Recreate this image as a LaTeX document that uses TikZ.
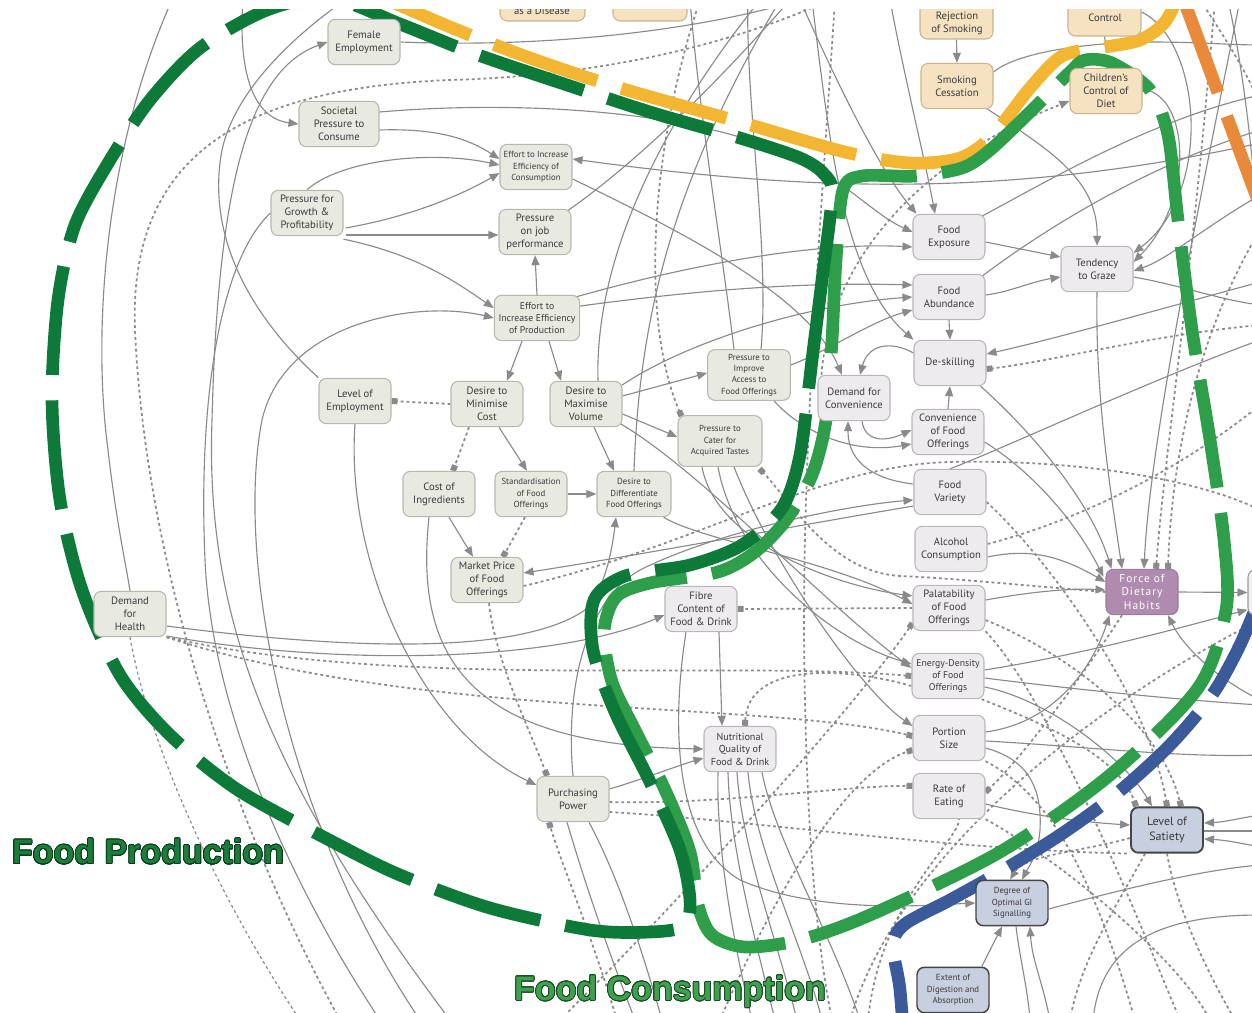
\documentclass[tikz,border=0pt]{standalone}
\usepackage{fontspec}
\setmainfont{PT Sans}
\newfontfamily\titlefont{Liberation Sans}
\newfontfamily\forcefont{PT Sans}[LetterSpace=9]
\usepackage[copies]{contour}
\contourlength{0.6pt}
\contournumber{24}
\usetikzlibrary{arrows.meta,calc,fit}
\pgfdeclarelayer{edges}
\pgfdeclarelayer{bands}
\pgfsetlayers{edges,bands,main}
\definecolor{pfill}{HTML}{E8EAE2}
\definecolor{pdraw}{HTML}{B5B8AE}
\definecolor{cfill}{HTML}{EEEBEF}
\definecolor{cdraw}{HTML}{B9B5BB}
\definecolor{tfill}{HTML}{F5E2C0}
\definecolor{tdraw}{HTML}{C9B48E}
\definecolor{bfill}{HTML}{C8CFDE}
\definecolor{bdraw}{HTML}{454545}
\definecolor{ffill}{HTML}{B08BB0}
\definecolor{fdraw}{HTML}{9E7A9E}
\definecolor{lc}{HTML}{8A8A8A}
\definecolor{txtc}{HTML}{3A3A3A}
\definecolor{dgreen}{HTML}{0E7A3A}
\definecolor{lgreen}{HTML}{2F9E4A}
\definecolor{yel}{HTML}{F2B632}
\definecolor{org}{HTML}{E98A3B}
\definecolor{blu}{HTML}{3A5A9A}
\definecolor{fpfill}{HTML}{1B7D3A}
\definecolor{fpline}{HTML}{0A3A1A}
\definecolor{fcfill}{HTML}{3FA04F}
\definecolor{fcline}{HTML}{1A4A25}
\tikzset{
 nbox/.style={rounded corners=5.5pt, align=center, inner sep=1pt, minimum width=54pt, minimum height=34pt, line width=0.8pt, font=\fontsize{8}{9.6}\selectfont, text=txtc},
 pn/.style={nbox, fill=pfill, draw=pdraw},
 cn/.style={nbox, fill=cfill, draw=cdraw},
 tn/.style={nbox, fill=tfill, draw=tdraw},
 bn/.style={nbox, fill=bfill, draw=bdraw, line width=1.1pt},
 fn/.style={nbox, fill=ffill, draw=fdraw, text=white, font=\forcefont\fontsize{8.5}{10.2}\selectfont},
 sm/.style={font=\fontsize{6.6}{8.5}\selectfont},
 ntxt/.style={align=center, inner sep=0pt, font=\fontsize{8}{9.6}\selectfont, text=txtc},
 ln/.style={draw=lc, line width=0.85pt},
 dt/.style={draw=lc, line width=1.3pt, dash pattern=on 2.2pt off 2.2pt},
 ar/.style={-{Triangle[length=7.5pt,width=6pt]}},
 sq/.style={-{Square[length=4.5pt,width=4.5pt]}},
 band/.style={line width=9.5pt, line cap=butt, dash pattern=on 82pt off 19pt},
}
\begin{document}
\begin{tikzpicture}[x=0.75pt,y=-0.75pt]
\useasboundingbox (0,0) rectangle (1252,1013);
\begin{scope}
\clip (0,10) rectangle (1252,1013);
% production nodes
\node[pn] (fe) at (364,42) {Female\\Employment};
\node[pn, minimum width=60pt] (spc) at (339,124) {Societal\\Pressure to\\Consume};
\node[pn, sm] (eic) at (536,167) {Effort to Increase\\Efficiency of\\Consumption};
\node[pn] (pgp) at (307,213) {Pressure for\\Growth \&\\Profitability};
\node[pn] (pjp) at (535,232) {Pressure\\on job\\performance};
\node[pn, minimum width=64pt, font=\fontsize{7.3}{9}\selectfont] (eip) at (537,318) {Effort to\\Increase Efficiency\\of Production};
\node[pn] (le) at (355,401) {Level of\\Employment};
\node[pn] (dmc) at (487,404) {Desire to\\Minimise\\Cost};
\node[pn] (dmv) at (586,404) {Desire to\\Maximise\\Volume};
\node[pn, sm, minimum width=62pt, minimum height=38pt] (pia) at (749,375) {Pressure to\\Improve\\Access to\\Food Offerings};
\node[pn, sm, minimum width=63pt, minimum height=38pt] (pca) at (720,441) {Pressure to\\Cater for\\Acquired Tastes};
\node[pn] (ci) at (439,494) {Cost of\\Ingredients};
\node[pn, sm] (sfo) at (531,494) {Standardisation\\of Food\\Offerings};
\node[pn, sm, minimum width=55.5pt] (ddf) at (634,494) {Desire to\\Differentiate\\Food Offerings};
\node[pn] (mp) at (487,580) {Market Price\\of Food\\Offerings};
\node[pn] (dh) at (130,614) {Demand\\for\\Health};
\node[pn] (pp) at (573,799) {Purchasing\\Power};
% consumption nodes
\node[cn] (dc) at (854,398) {Demand for\\Convenience};
\node[cn] (ds) at (950,363) {De-skilling};
\node[cn] (cfo) at (948,432) {Convenience\\of Food\\Offerings};
\node[cn] (fv) at (950,492) {Food\\Variety};
\node[cn] (ac) at (951,549) {Alcohol\\Consumption};
\node[cn] (pal) at (949,608) {Palatability\\of Food\\Offerings};
\node[fn] (fdh) at (1142,592) {Force of\\Dietary\\Habits};
\node[cn] (fib) at (701,609) {Fibre\\Content of\\Food \& Drink};
\node[cn] (fex) at (949,237) {Food\\Exposure};
\node[cn] (fab) at (949,297) {Food\\Abundance};
\node[cn] (tg) at (1097,269) {Tendency\\to Graze};
\node[cn, font=\fontsize{7.3}{9}\selectfont] (ed) at (948,676) {Energy-Density\\of Food\\Offerings};
\node[cn] (ps) at (949,738) {Portion\\Size};
\node[cn] (re) at (949,796) {Rate of\\Eating};
\node[bn, line width=1.4pt, font=\fontsize{9}{11}\selectfont] (ls) at (1167,830) {Level of\\Satiety};
\node[bn, sm] (dgi) at (1012,903) {Degree of\\Optimal GI\\Signalling};
\node[bn, sm] (eda) at (953,990) {Extent of\\Digestion and\\Absorption};
\node[cn, font=\fontsize{7.6}{9.4}\selectfont] (nq) at (740,749) {Nutritional\\Quality of\\Food \& Drink};
% tan nodes
\node[tn] (sc) at (957,86) {Smoking\\Cessation};
\node[tn] (cc) at (1106,91) {Children’s\\Control of\\Diet};
\node[tn, fit={(920,-12) (993,39)}, inner sep=0pt] (rsbox) {};
\node[ntxt] (rstxt) at (957,23) {Rejection\\of Smoking};
\node[tn, fit={(1068,-12) (1141,36)}, inner sep=0pt] (ctlbox) {};
\node[ntxt] (ctltxt) at (1105,18) {Control};
\node[tn, fit={(500,-30) (585,21)}, inner sep=0pt] (disbox) {};
\node[ntxt] (distxt) at (542,11) {as a Disease};
\node[tn, fit={(613,-30) (687,21)}, inner sep=0pt] (tbox2) {};
\node[nbox, fill=white!95!black, draw=black!40, fit={(1248,570) (1320,615)}, inner sep=0pt] (rbox) {};
% titles
\node[font=\titlefont\bfseries\fontsize{25.5}{28}\selectfont, inner sep=0pt] (tprod) at (148,852) {\color{fpfill}\contour{fpline}{Food Production}};
\node[font=\titlefont\bfseries\fontsize{25.5}{28}\selectfont, inner sep=0pt] (tcons) at (670,992) {\color{fcfill}\contour{fcline}{Food Consumption}};
\end{scope}
% free ends
\coordinate (k1) at (172,0); \coordinate (k2) at (243,0); \coordinate (k3) at (450,1020);
\coordinate (k4) at (345,0); \coordinate (k5) at (380,1020); \coordinate (k6) at (420,1020);
\coordinate (k7) at (340,1020); \coordinate (k8) at (830,0); \coordinate (k9) at (790,0);
\coordinate (k10) at (1260,143); \coordinate (k11) at (780,0); \coordinate (k12) at (300,1020);
\coordinate (k13) at (1260,510); \coordinate (k14) at (635,1020); \coordinate (k15) at (662,1020);
\coordinate (k16) at (617,1020); \coordinate (k17) at (752,1020); \coordinate (k18) at (775,1020);
\coordinate (k19) at (797,1020); \coordinate (k20) at (822,1020); \coordinate (k21) at (860,1020);
\coordinate (k22) at (690,0); \coordinate (k23) at (748,0); \coordinate (k24) at (700,0);
\coordinate (k25) at (1260,45); \coordinate (ctlj) at (1106,45); \coordinate (k26) at (1260,195);
\coordinate (k27) at (1260,305); \coordinate (k28) at (890,0); \coordinate (k29) at (800,0);
\coordinate (k30) at (812,0); \coordinate (k31) at (1260,95); \coordinate (k32) at (1260,130);
\coordinate (k33) at (1260,340); \coordinate (k34) at (1260,282); \coordinate (k35) at (1260,325);
\coordinate (k36) at (1260,705); \coordinate (k37) at (1260,755); \coordinate (k38) at (1030,1020);
\coordinate (k39) at (1050,1020); \coordinate (k40) at (1260,865); \coordinate (k41) at (1260,815);
\coordinate (k42) at (1260,847); \coordinate (k43) at (1260,831); \coordinate (k44) at (1260,700);
\coordinate (k45) at (1093,1020); \coordinate (k46) at (1260,915); \coordinate (k47) at (1240,0);
\coordinate (k48) at (1215,0); \coordinate (k49) at (1260,230); \coordinate (k50) at (835,0);
\coordinate (k51) at (832,1020); \coordinate (k52) at (1228,0); \coordinate (k53) at (1262,260);
\coordinate (k54) at (1200,0); \coordinate (k55) at (1262,110); \coordinate (k56) at (800,0);
\coordinate (k57) at (760,0); \coordinate (k58) at (560,1020); \coordinate (k59) at (720,1020);
\coordinate (k60) at (1260,405); \coordinate (k61) at (1135,1020); \coordinate (k62) at (868,1020);
\coordinate (k63) at (1180,1020); \coordinate (k64) at (850,1020); \coordinate (k65) at (1260,620);
\coordinate (k66) at (1210,1020); \coordinate (k67) at (1235,1020); \coordinate (k68) at (1070,1020);
\begin{pgfonlayer}{edges}
\begin{scope}
\clip (0,10) rectangle (1252,1013);
\draw[ln] (k1) .. controls (105,150) and (92,330) .. (108,450) .. controls (116,520) and (126,565) .. (dh.north);
\draw[ln,ar] (k2) .. controls (238,70) and (252,118) .. (spc.west);
\draw[ln,ar] (k3) .. controls (270,780) and (205,620) .. (212,420) .. controls (218,180) and (250,70) .. (fe.west);
\draw[ln] (le.north west) .. controls (255,320) and (205,240) .. (222,150) .. controls (235,90) and (295,35) .. (k4);
\draw[ln] (pgp.west) .. controls (220,260) and (198,400) .. (205,560) .. controls (212,720) and (300,900) .. (k5);
\draw[ln,ar] (k6) .. controls (285,820) and (235,560) .. (262,420) .. controls (285,320) and (420,300) .. (eip.west);
\draw[dt] (k7) .. controls (230,820) and (145,560) .. (135,330) .. controls (128,150) and (250,88) .. (450,80) .. controls (600,76) and (730,45) .. (k8);
\draw[ln,ar] ($(spc.east)+(0,6)$) .. controls (440,128) and (470,140) .. ($(eic.west)+(0,-8)$);
\draw[ln,ar] ($(spc.east)+(0,-12)$) .. controls (520,100) and (700,110) .. (800,160) .. controls (850,185) and (875,215) .. ($(fex.west)+(0,-5)$);
\draw[ln,ar] (pgp.north) .. controls (340,160) and (430,150) .. ($(eic.west)+(0,-2)$);
\draw[ln,ar] ($(pgp.east)+(2,15)$) .. controls (420,215) and (470,190) .. ($(eic.west)+(0,6)$);
\draw[ln,ar] ($(pgp.east)+(2,22)$) -- ($(pjp.west)+(0,3)$);
\draw[ln,ar] ($(pgp.south east)+(0,3)$) .. controls (420,255) and (460,285) .. ($(eip.west)+(0,-10)$);
\draw[ln,ar] (eip.north) -- (pjp.south);
\draw[ln,ar] ($(eip.south)+(-15,0)$) -- ($(dmc.north)+(20,0)$);
\draw[ln,ar] ($(eip.south)+(12,0)$) -- ($(dmv.north)+(-25,0)$);
\draw[ln,ar] ($(eip.east)+(0,-12)$) .. controls (700,290) and (800,282) .. ($(fab.west)+(0,-12)$);
\draw[ln,ar] ($(eip.north east)+(-4,2)$) .. controls (700,262) and (820,242) .. ($(fex.west)+(0,10)$);
\draw[ln] ($(pjp.north east)+(-4,2)$) .. controls (640,160) and (720,80) .. (k9);
\draw[ln,ar] (k10) .. controls (1000,200) and (800,190) .. ($(eic.east)+(0,-8)$);
\draw[ln,ar] ($(eic.east)+(0,12)$) .. controls (700,240) and (810,300) .. ($(dc.north)+(-12,0)$);
\draw[dt,sq] (dmc.west) -- (le.east);
\draw[dt,sq] ($(dmc.south)+(-18,0)$) -- ($(ci.north)+(14,0)$);
\draw[ln,ar] ($(dmc.south)+(12,0)$) -- ($(sfo.north)+(-4,0)$);
\draw[ln,ar] ($(dmv.south)+(8,0)$) -- ($(ddf.north)+(-20,0)$);
\draw[ln,ar] (sfo.east) -- (ddf.west);
\draw[dt,sq] ($(sfo.south)+(-6,0)$) -- ($(mp.north)+(16,0)$);
\draw[ln,ar] ($(ci.south)+(10,0)$) -- ($(mp.north)+(-14,0)$);
\draw[ln,ar] ($(dmv.east)+(0,-8)$) -- ($(pia.west)+(0,-2)$);
\draw[ln,ar] ($(dmv.east)+(0,10)$) -- ($(pca.west)+(0,-4)$);
\draw[ln,ar] ($(dmv.north east)+(-3,6)$) .. controls (680,345) and (800,305) .. (fab.west);
\draw[ln,ar] ($(dmv.south east)+(-3,-4)$) .. controls (700,470) and (820,600) .. ($(ed.west)+(0,-8)$);
\draw[ln] ($(dmv.north)+(12,0)$) .. controls (595,280) and (640,150) .. (k57);
\draw[ln] (ddf.north) .. controls (640,300) and (680,170) .. (k11);
\draw[ln,ar] ($(ddf.south east)+(-8,0)$) .. controls (700,540) and (830,560) .. ($(pal.west)+(0,-4)$);
\draw[ln,ar] (pp.north) .. controls (565,690) and (585,600) .. (640,570) .. controls (720,530) and (850,505) .. ($(fv.west)+(0,8)$);
\draw[ln,ar] ($(dh.east)+(0,12)$) .. controls (350,650) and (520,655) .. (585,610) .. controls (605,590) and (612,550) .. ($(ddf.south)+(-18,0)$);
\draw[ln,ar] ($(dh.east)+(0,22)$) .. controls (350,668) and (560,660) .. ($(fib.west)+(0,6)$);
\draw[dt,sq] (dh.south east) .. controls (400,690) and (720,660) .. (ed.west);
\draw[dt,sq] (dh.south east) .. controls (420,720) and (760,700) .. ($(ps.west)+(0,-2)$);
\draw[dt, line width=0.9pt] (dh.south) .. controls (150,750) and (220,900) .. (k12);
\draw[ln,ar] (le.south) .. controls (345,560) and (420,730) .. ($(pp.west)+(0,-14)$);
\draw[ln,ar] ($(ci.south)+(-10,0)$) .. controls (415,650) and (460,745) .. (nq.west);
\draw[dt,sq] ($(mp.south)+(2,0)$) .. controls (495,660) and (530,730) .. ($(pp.north)+(-26,0)$);
\draw[ln,ar] ($(fv.west)+(0,14)$) .. controls (800,525) and (640,555) .. ($(mp.east)+(0,-7)$);
\draw[dt] ($(mp.east)+(0,6)$) .. controls (700,545) and (820,465) .. (950,462) .. controls (1080,459) and (1200,480) .. (k13);
\draw[ln,ar] ($(pp.east)+(0,-10)$) .. controls (640,780) and (680,765) .. ($(nq.west)+(0,9)$);
\draw[dt,sq] ($(pp.east)+(0,3)$) .. controls (720,805) and (850,785) .. ($(re.west)+(0,-10)$);
\draw[dt] ($(pp.east)+(0,13)$) .. controls (750,820) and (950,850) .. (ls.south west);
\draw[ln] ($(pp.south)+(-6,0)$) .. controls (590,900) and (612,960) .. (k14);
\draw[ln] ($(pp.south)+(16,0)$) .. controls (620,880) and (645,960) .. (k15);
\draw[dt,sq] (k16) .. controls (590,930) and (560,860) .. ($(pp.south)+(-24,0)$);
\draw[ln,ar] ($(fib.south)+(18,0)$) -- ($(nq.north)+(-18,0)$);
\draw[ln,ar] ($(fib.south)+(-15,0)$) .. controls (672,720) and (672,840) .. (740,880) .. controls (820,915) and (930,905) .. (dgi.west);
\draw[dt,sq] (pal.west) -- (fib.east);
\draw[ln] ($(nq.south)+(-22,0)$) .. controls (716,850) and (735,950) .. (k17);
\draw[ln] ($(nq.south)+(-12,0)$) .. controls (730,850) and (758,950) .. (k18);
\draw[ln] ($(nq.south)+(-3,0)$) .. controls (742,850) and (780,950) .. (k19);
\draw[ln] ($(nq.south)+(8,0)$) .. controls (755,850) and (805,950) .. (k20);
\draw[ln] ($(nq.south)+(22,0)$) .. controls (775,840) and (830,930) .. (k21);
\draw[dt,sq] ($(ed.west)+(0,10)$) .. controls (850,668) and (748,660) .. ($(nq.north)+(5,0)$);
\draw[ln,ar] ($(pia.south)+(25,0)$) .. controls (800,430) and (850,455) .. ($(cfo.west)+(0,12)$);
\draw[ln,ar] ($(pia.east)+(0,-10)$) .. controls (830,350) and (870,322) .. ($(fab.west)+(0,13)$);
\draw[ln] ($(pia.north)+(-15,0)$) .. controls (722,250) and (700,120) .. (k22);
\draw[ln] ($(pia.north)+(12,0)$) .. controls (770,250) and (745,100) .. (k23);
\draw[dt,sq] (k24) .. controls (650,150) and (640,320) .. ($(pca.north west)+(4,1)$);
\draw[ln,ar] ($(pca.south)+(-18,0)$) .. controls (715,540) and (830,585) .. ($(pal.west)+(0,-12)$);
\draw[ln,ar] ($(pca.south)+(-2,0)$) .. controls (735,560) and (830,640) .. ($(ed.west)+(0,-12)$);
\draw[ln,ar] ($(pca.south)+(14,0)$) .. controls (770,560) and (860,690) .. ($(ps.west)+(0,-12)$);
\draw[dt,sq] (fdh.west) .. controls (1020,585) and (950,578) .. (900,576) .. controls (830,572) and (790,500) .. ($(pca.south east)+(-3,2)$);
\draw[ln,ar] ($(dc.south)+(8,0)$) .. controls (865,442) and (885,442) .. ($(cfo.west)+(0,-2)$);
\draw[ln,ar] ($(fv.west)+(0,-8)$) .. controls (878,480) and (848,465) .. ($(dc.south)+(-6,0)$);
\draw[ln,ar] ($(ds.west)+(0,-10)$) .. controls (890,340) and (868,345) .. ($(dc.north)+(6,0)$);
\draw[ln,ar] (cfo.north) -- (ds.south);
\draw[ln,ar] (fab.south) -- (ds.north);
\draw[ln,ar] ($(fex.east)+(0,5)$) -- ($(tg.west)+(0,-12)$);
\draw[ln,ar] ($(fab.east)+(0,-2)$) .. controls (1010,292) and (1030,282) .. ($(tg.west)+(0,8)$);
\draw[ln,ar] (rsbox.south) -- (sc.north);
\draw[ln,ar] ($(sc.south east)+(-6,0)$) .. controls (1050,150) and (1098,180) .. (tg.north);
\draw[ln] ($(sc.east)+(0,-14)$) .. controls (1020,50) and (1100,42) .. (1150,42) .. controls (1200,42) and (1230,45) .. (k25);
\draw[ln] (ctlbox.south) -- (ctlj);
\draw[ln,ar] (ctlbox.east) .. controls (1200,40) and (1215,190) .. ($(tg.east)+(0,-16)$);
\draw[ln,ar] ($(cc.east)+(0,-2)$) .. controls (1190,95) and (1195,200) .. ($(tg.east)+(0,-7)$);
\draw[ln,ar] (k26) .. controls (1200,230) and (1170,258) .. ($(tg.east)+(0,2)$);
\draw[ln] ($(tg.east)+(0,8)$) .. controls (1180,285) and (1220,300) .. (k27);
\draw[ln,ar] (tg.south) .. controls (1095,400) and (1112,500) .. ($(fdh.north)+(-20,0)$);
\draw[dt,ar] ($(dc.north west)+(4,0)$) .. controls (830,260) and (920,160) .. ($(cc.west)+(0,10)$);
\draw[ln,ar] (k28) .. controls (905,80) and (925,160) .. ($(fex.north)+(-14,0)$);
\draw[ln,ar] (k29) .. controls (840,90) and (880,170) .. ($(fex.north west)+(4,0)$);
\draw[ln,ar] (k30) .. controls (830,150) and (845,280) .. (ds.north west);
\draw[ln] ($(fex.north east)+(-3,2)$) .. controls (1050,180) and (1150,120) .. (k31);
\draw[ln] ($(fab.north east)+(-3,2)$) .. controls (1050,225) and (1150,165) .. (k32);
\draw[ln,ar] ($(ds.south east)+(-6,0)$) .. controls (1030,430) and (1090,500) .. ($(fdh.north west)+(6,0)$);
\draw[ln,ar] ($(cfo.east)+(0,10)$) .. controls (1030,470) and (1075,520) .. ($(fdh.north west)+(-2,8)$);
\draw[ln] (fv.north) .. controls (1000,450) and (1150,380) .. (k33);
\draw[ln,ar] (k34) .. controls (1150,312) and (1050,340) .. ($(ds.east)+(0,-9)$);
\draw[dt,sq] (k35) .. controls (1150,335) and (1050,362) .. ($(ds.east)+(0,6)$);
\draw[ln,ar] ($(ac.east)+(0,8)$) .. controls (1030,548) and (1060,556) .. ($(fdh.west)+(0,-10)$);
\draw[ln,ar] ($(pal.east)+(0,-8)$) .. controls (1030,592) and (1070,588) .. ($(fdh.west)+(0,-2)$);
\draw[dt] ($(ac.east)+(0,-5)$) .. controls (1080,520) and (1180,470) .. (k60);
\draw[ln,ar] (fdh.east) -- (rbox.west);
\draw[ln,ar] ($(ed.east)+(0,-6)$) .. controls (1080,655) and (1180,628) .. ($(rbox.south west)+(0,-6)$);
\draw[ln] ($(ed.east)+(0,2)$) .. controls (1080,690) and (1180,700) .. (k36);
\draw[ln,ar] ($(ed.east)+(0,11)$) .. controls (1050,700) and (1125,760) .. ($(ls.north)+(-15,0)$);
\draw[dt,sq] ($(ed.south east)+(-3,0)$) .. controls (1060,730) and (1120,760) .. ($(ls.north west)+(6,0)$);
\draw[ln,ar] ($(ps.east)+(0,-6)$) .. controls (1060,722) and (1095,660) .. ($(fdh.south west)+(4,0)$);
\draw[ln] ($(ps.east)+(0,3)$) .. controls (1080,746) and (1180,758) .. (k37);
\draw[ln,ar] ($(ps.east)+(0,10)$) .. controls (1030,760) and (1042,790) .. (1040,830) .. controls (1038,855) and (1028,868) .. ($(dgi.north)+(10,0)$);
\draw[dt] (ps.south east) .. controls (1060,800) and (1100,900) .. (k61);
\draw[ln,ar] ($(re.east)+(0,8)$) .. controls (1030,815) and (1080,822) .. ($(ls.west)+(0,-5)$);
\draw[dt,ar] ($(ls.west)+(0,8)$) .. controls (1080,852) and (1025,855) .. ($(dgi.north)+(-2,0)$);
\draw[dt] (k62) .. controls (880,900) and (960,840) .. ($(re.south)+(10,0)$);
\draw[dt] (pal.south east) .. controls (1050,700) and (1130,900) .. (k63);
\draw[dt] (k64) .. controls (900,850) and (1100,700) .. (k65);
\draw[dt] (re.south east) .. controls (1060,860) and (1180,960) .. (k66);
\draw[dt] (ls.south) .. controls (1175,900) and (1200,960) .. (k67);
\draw[dt] ($(ls.south)+(-22,0)$) .. controls (1120,900) and (1080,960) .. (k68);
\draw[ln,ar] ($(eda.north east)+(-8,0)$) -- ($(dgi.south)+(-10,0)$);
\draw[ln] ($(dgi.south)+(4,0)$) .. controls (1020,960) and (1028,990) .. (k38);
\draw[ln,ar] (k39) .. controls (1042,980) and (1032,960) .. ($(dgi.south)+(18,0)$);
\draw[ln] ($(dgi.east)+(0,6)$) .. controls (1120,890) and (1200,870) .. (k40);
\draw[ln,ar] (k41) .. controls (1240,818) and (1225,822) .. ($(ls.east)+(0,-7)$);
\draw[ln,ar] (k42) .. controls (1240,843) and (1225,840) .. ($(ls.east)+(0,9)$);
\draw[ln] ($(ls.east)+(0,1)$) -- (k43);
\draw[ln,ar] (k44) .. controls (1220,680) and (1185,650) .. ($(fdh.south)+(26,0)$);
\draw[ln] (k45) .. controls (1100,950) and (1150,915) .. (k46);
\draw[dt,sq] ($(fdh.south)+(-20,0)$) .. controls (1080,680) and (1020,760) .. ($(re.east)+(0,-4)$);
\draw[ln,ar] (k47) .. controls (1200,200) and (1150,440) .. ($(fdh.north)+(2,0)$);
\draw[dt,sq] (k48) .. controls (1190,300) and (1165,450) .. ($(fdh.north)+(14,0)$);
\draw[dt,sq] (k49) .. controls (1200,330) and (1172,450) .. ($(fdh.north)+(26,0)$);
\draw[dt] (k50) .. controls (815,300) and (800,500) .. (805,700) .. controls (808,850) and (818,950) .. (k51);
\draw[ln] (k52) .. controls (1250,100) and (1255,200) .. (k53);
\draw[dt] (k54) .. controls (1240,60) and (1255,90) .. (k55);
\draw[ln] (fe.east) .. controls (550,48) and (700,30) .. (k56);
\draw[dt,sq] ($(fv.east)+(0,10)$) .. controls (1050,560) and (1150,700) .. (ls.north);
\draw[dt,sq] ($(pal.east)+(0,12)$) .. controls (1060,650) and (1160,720) .. ($(ls.north)+(14,0)$);
\draw[dt,sq] (k58) .. controls (700,880) and (860,700) .. ($(pal.south west)+(0,-8)$);
\draw[dt,sq] (k59) .. controls (780,880) and (850,770) .. ($(ps.west)+(0,12)$);
\end{scope}
\end{pgfonlayer}
\begin{pgfonlayer}{bands}
\begin{scope}
\clip (0,10) rectangle (1252,1013);
\draw[band, draw=org] (1180,-10) -- (1280,260);
\draw[band, draw=yel] plot[smooth, tension=0.5] coordinates {(370,-8) (450,27) (530,58) (620,88) (740,122) (845,152) (910,163) (960,158) (992,136) (1030,88) (1062,56) (1100,48) (1140,40) (1165,22) (1180,-8)};
\draw[band, draw=blu] plot[smooth, tension=0.5] coordinates {(906,1070) (900,990) (893,945) (905,924) (950,900) (1000,872) (1060,835) (1115,795) (1170,745) (1212,695) (1240,645) (1265,585)};
\draw[band, draw=lgreen] plot[smooth cycle, tension=0.5] coordinates {(1070,72) (1030,112) (990,150) (962,168) (915,176) (862,176) (843,190) (836,260) (832,340) (826,420) (812,475) (786,520) (755,552) (718,572) (650,583) (616,597) (604,632) (612,682) (636,732) (666,792) (690,852) (698,905) (712,935) (745,947) (800,940) (870,915) (1000,852) (1110,775) (1198,688) (1226,610) (1224,540) (1210,440) (1192,330) (1178,220) (1168,135) (1150,90) (1112,63) (1085,60)};
\draw[band, draw=dgreen] plot[smooth cycle, tension=0.5] coordinates {(832,195) (822,280) (812,360) (800,455) (782,508) (742,545) (690,565) (625,576) (594,600) (593,650) (615,712) (650,782) (680,850) (690,900) (684,926) (650,932) (590,930) (490,908) (400,875) (335,843) (238,790) (170,735) (120,675) (82,590) (60,500) (52,400) (58,300) (75,225) (110,160) (150,100) (200,48) (267,10) (330,-2) (400,24) (470,52) (540,76) (650,112) (740,138) (800,158) (824,174)};
\end{scope}
\end{pgfonlayer}
\end{tikzpicture}
\end{document}
